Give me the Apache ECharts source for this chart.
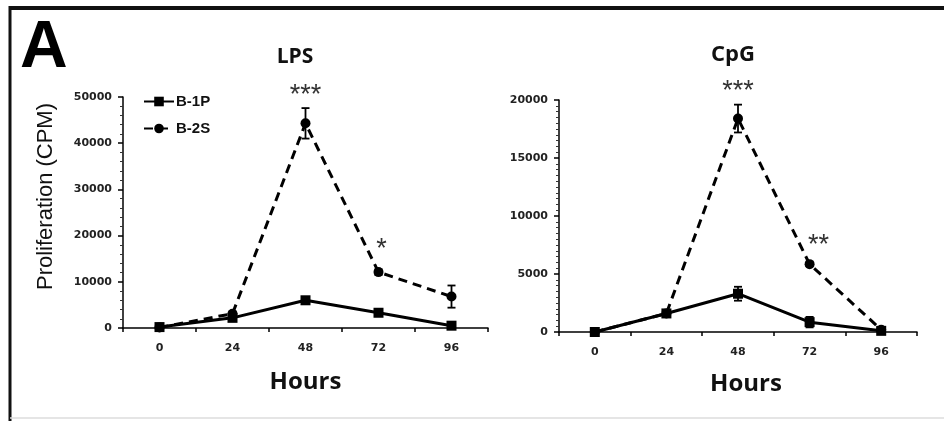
<!DOCTYPE html>
<html><head><meta charset="utf-8">
<script src="https://cdn.jsdelivr.net/npm/echarts@6/dist/echarts.min.js"></script>
<style>html,body{margin:0;padding:0;background:#fff}#c{width:944px;height:421px}</style>
</head><body><div id="c"></div>
<script>
var hours = ['0','24','48','72','96'];
var lpsB1P = [200, 2200, 6000, 3300, 500];
var lpsB1PErr = [0, 300, 500, 500, 300];
var lpsB2S = [100, 3100, 44300, 12100, 6800];
var lpsB2SErr = [0, 400, 3300, 600, 2400];
var lpsSig = ['', '', '***', '*', ''];
var cpgB1P = [0, 1600, 3300, 850, 100];
var cpgB1PErr = [0, 100, 600, 450, 50];
var cpgB2S = [0, 1600, 18400, 5850, 200];
var cpgB2SErr = [0, 100, 1200, 150, 50];
var cpgSig = ['', '', '***', '**', ''];
var lpsTicks = {min: 0, max: 50000, interval: 10000};
var cpgTicks = {min: 0, max: 20000, interval: 5000};

function errData(vals, errs, sig) {
  return vals.map(function (v, i) { return [i, v - errs[i], v + errs[i], sig ? sig[i] : '']; });
}
function errSeries(xi, data) {
  return {
    type: 'custom', xAxisIndex: xi, yAxisIndex: xi, z: 5, silent: true,
    renderItem: function (params, api) {
      var x = api.value(0);
      var lo = api.coord([x, api.value(1)]);
      var hi = api.coord([x, api.value(2)]);
      var s = api.value(3);
      var w = 4;
      var children = [];
      if (hi[1] < lo[1] - 1) {
        var st = {stroke: '#000', lineWidth: 1.8};
        children.push({type: 'line', shape: {x1: lo[0], y1: lo[1], x2: hi[0], y2: hi[1]}, style: st});
        children.push({type: 'line', shape: {x1: lo[0] - w, y1: lo[1], x2: lo[0] + w, y2: lo[1]}, style: st});
        children.push({type: 'line', shape: {x1: hi[0] - w, y1: hi[1], x2: hi[0] + w, y2: hi[1]}, style: st});
      }
      if (s) {
        var dx = s.length === 2 ? 9 : (s.length === 1 ? 3 : 0);
        var dy = s.length === 3 ? -13 : (s.length === 2 ? -17 : -20);
        children.push({type: 'text', x: hi[0] + dx, y: hi[1] + dy,
          style: {text: s, fill: '#333', font: '27px "Liberation Sans"', align: 'center', verticalAlign: 'middle'}});
      }
      return {type: 'group', children: children};
    },
    encode: {x: 0, y: [1, 2]},
    data: data
  };
}
var lblFont = {color: '#222', fontFamily: 'DejaVu Sans', fontWeight: 'bold', fontSize: 11};
function xAx(gi, gap, pad) {
  return {type: 'category', gridIndex: gi, data: hours, boundaryGap: true,
    axisLine: {lineStyle: {color: '#000', width: 1.5}},
    axisTick: {show: true, length: 4, lineStyle: {color: '#000', width: 1.5}},
    axisLabel: Object.assign({margin: 15}, lblFont),
    name: 'Hours', nameLocation: 'middle', nameGap: gap,
    nameTextStyle: {fontFamily: 'Open Sans', fontWeight: 'bold', fontSize: 24, color: '#111', padding: pad}};
}
function yAx(gi, t, minorSplit, name) {
  return {type: 'value', gridIndex: gi, min: t.min, max: t.max, interval: t.interval,
    splitLine: {show: false},
    axisLine: {show: true, lineStyle: {color: '#000', width: 1.5}},
    axisTick: {show: true, length: 5, lineStyle: {color: '#000', width: 1.5}},
    minorTick: {show: true, splitNumber: minorSplit, length: 3, lineStyle: {color: '#333', width: 1}},
    axisLabel: Object.assign({margin: 11, formatter: function (v) { return String(v); }}, lblFont),
    name: name || '', nameLocation: 'middle', nameGap: 66,
    nameTextStyle: {fontFamily: 'Liberation Sans', fontSize: 22, color: '#111', padding: [0, 0, 0, 32]}};
}
function solid(xi, name, d) {
  return {name: name, type: 'line', xAxisIndex: xi, yAxisIndex: xi, data: d, z: 6,
    symbol: 'rect', symbolSize: 10, itemStyle: {color: '#000'},
    lineStyle: {color: '#000', width: 3, type: 'solid'}};
}
function dashed(xi, name, d) {
  return {name: name, type: 'line', xAxisIndex: xi, yAxisIndex: xi, data: d, z: 6,
    symbol: 'circle', symbolSize: 10, itemStyle: {color: '#000'},
    lineStyle: {color: '#000', width: 3, type: [9, 6]}};
}
var chart = echarts.init(document.getElementById('c'), null, {renderer: 'canvas'});
chart.setOption({
  animation: false,
  backgroundColor: '#fff',
  title: [
    {text: 'LPS', left: 290, top: 42, textAlign: 'center', textStyle: {fontFamily: 'Open Sans', fontWeight: 'bold', fontSize: 21, color: '#111'}},
    {text: 'CpG', left: 728, top: 39, textAlign: 'center', textStyle: {fontFamily: 'Open Sans', fontWeight: 'bold', fontSize: 22, color: '#111'}},
    {text: 'A', left: 15, top: 11, textStyle: {fontFamily: 'Liberation Sans', fontWeight: 'bold', fontSize: 66, color: '#000'}}
  ],
  legend: {left: 138, top: 89, orient: 'vertical', itemGap: 12, itemWidth: 30, itemHeight: 12,
    data: ['B-1P', 'B-2S'],
    textStyle: {fontFamily: 'Liberation Sans', fontWeight: 'bold', fontSize: 15, color: '#111', padding: [0, 0, 0, -3]}},
  grid: [
    {left: 123, top: 97, width: 365, height: 231},
    {left: 559, top: 100, width: 358, height: 232}
  ],
  xAxis: [xAx(0, 42, [0, 0, 0, 0]), xAx(1, 40, [0, 0, 0, 16])],
  yAxis: [yAx(0, lpsTicks, 5, 'Proliferation (CPM)'), yAx(1, cpgTicks, 10)],
  graphic: [
    {type: 'line', shape: {x1: 9, y1: 8, x2: 944, y2: 8}, style: {stroke: '#111', lineWidth: 4}},
    {type: 'line', shape: {x1: 10, y1: 6, x2: 10, y2: 421}, style: {stroke: '#111', lineWidth: 3}},
    {type: 'line', shape: {x1: 10, y1: 418, x2: 944, y2: 418}, style: {stroke: '#ddd', lineWidth: 1.5}}
  ],
  series: [
    solid(0, 'B-1P', lpsB1P), dashed(0, 'B-2S', lpsB2S),
    errSeries(0, errData(lpsB1P, lpsB1PErr)), errSeries(0, errData(lpsB2S, lpsB2SErr, lpsSig)),
    solid(1, 'B-1P', cpgB1P), dashed(1, 'B-2S', cpgB2S),
    errSeries(1, errData(cpgB1P, cpgB1PErr)), errSeries(1, errData(cpgB2S, cpgB2SErr, cpgSig))
  ]
});
</script></body></html>
